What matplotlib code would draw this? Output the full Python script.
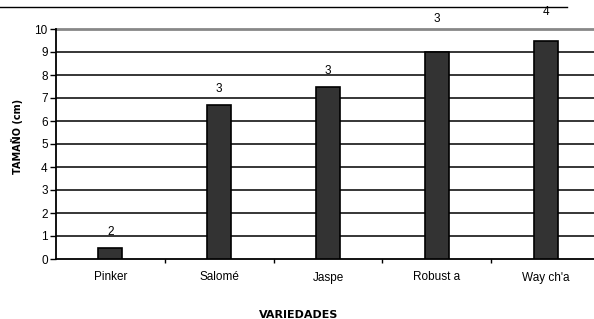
import numpy as np
import matplotlib
matplotlib.use("Agg")
import matplotlib.pyplot as plt
from matplotlib.lines import Line2D

variedades = ["Pinker", "Salomé", "Jaspe", "Robust a", "Way ch'a"]
tamano = [0.5, 6.7, 7.5, 9.0, 9.5]
etiquetas = ["2", "3", "3", "3", "4"]
yticks = list(range(0, 11))

plt.rcParams['font.family'] = ['Liberation Sans', 'DejaVu Sans']

W, H = 594, 319
fig = plt.figure(figsize=(W / 100, H / 100), dpi=100)
# axes: left 56px, right ~600px (cut by the figure), top 29px, bottom 259px
ax = fig.add_axes([56 / W, (H - 259) / H, (600 - 56) / W, (259 - 29) / H])

x = np.arange(len(variedades))
ax.bar(x, tamano, width=0.22, color="#333333", edgecolor="black", linewidth=1.2, zorder=3)

# value labels above bars (last two sit higher, over the top line)
offs = [11.5, 11.5, 11.5, 24, 20.5]
for xi, v, lab, o in zip(x, tamano, etiquetas, offs):
    ax.annotate(lab, (xi, v), xytext=(0, o), textcoords="offset points",
                ha="center", va="center", fontsize=8.5, annotation_clip=False)

ax.set_xlim(-0.5, len(variedades) - 0.5)
ax.set_ylim(0, 10)
ax.set_yticks(yticks)
ax.set_yticklabels([str(t) for t in yticks], fontsize=8.5)
for t in yticks[1:-1]:
    ax.axhline(t, color="black", linewidth=1.1, zorder=1)
ax.axhline(10, color="#888888", linewidth=2, zorder=1, clip_on=False)

ax.set_xticks(x)
ax.set_xticklabels(variedades, fontsize=8.5)
ax.set_xticks(np.arange(0.5, len(variedades) - 0.5, 1), minor=True)
ax.tick_params(axis="x", which="major", length=0, pad=9)
ax.tick_params(axis="x", which="minor", length=3, width=1, direction="out")
ax.tick_params(axis="y", length=4, width=1, direction="out", pad=2)

for s in ["top", "right"]:
    ax.spines[s].set_visible(False)
ax.spines["left"].set_linewidth(1.3)
ax.spines["bottom"].set_linewidth(1.3)

fig.text(17 / W, 1 - 136 / H, "TAMAÑO (cm)", rotation=90, fontsize=7,
         fontweight="bold", ha="center", va="center", family="DejaVu Sans")
fig.text(299 / W, 1 - 315 / H, "VARIEDADES", fontsize=8, fontweight="bold",
         ha="center", va="center", family="DejaVu Sans")

# thin rule at the very top
fig.add_artist(Line2D([0, 567 / W], [1 - 7 / H, 1 - 7 / H], color="black",
                      linewidth=1, transform=fig.transFigure))

fig.savefig("out.png", dpi=100)
